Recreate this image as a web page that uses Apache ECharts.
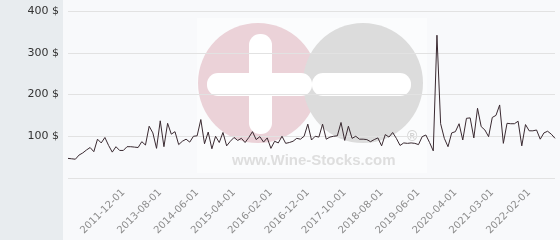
<!DOCTYPE html>
<html>
<head>
<meta charset="utf-8">
<script src="https://cdn.jsdelivr.net/npm/echarts@6/dist/echarts.min.js"></script>
<style>
html,body{margin:0;padding:0;background:#f8f9fb;}
#chart{width:560px;height:240px;}
</style>
</head>
<body>
<div id="chart"></div>
<script>
const categories = [
'2009-06-01','2009-08-01','2009-10-01','2009-12-01','2010-02-01','2010-04-01','2010-06-01','2010-08-01','2010-10-01','2010-12-01',
'2011-02-01','2011-04-01','2011-06-01','2011-08-01','2011-10-01','2011-12-01','2012-02-01','2012-04-01','2012-06-01','2012-08-01',
'2012-10-01','2012-12-01','2013-02-01','2013-04-01','2013-06-01','2013-08-01','2013-09-01','2013-10-01','2013-11-01','2013-12-01',
'2014-01-01','2014-02-01','2014-03-01','2014-04-01','2014-05-01','2014-06-01','2014-07-01','2014-08-01','2014-09-01','2014-10-01',
'2014-11-01','2014-12-01','2015-01-01','2015-02-01','2015-03-01','2015-04-01','2015-05-01','2015-06-01','2015-07-01','2015-08-01',
'2015-09-01','2015-10-01','2015-11-01','2015-12-01','2016-01-01','2016-02-01','2016-03-01','2016-04-01','2016-05-01','2016-06-01',
'2016-07-01','2016-08-01','2016-09-01','2016-10-01','2016-11-01','2016-12-01','2017-01-01','2017-02-01','2017-03-01','2017-04-01',
'2017-05-01','2017-06-01','2017-07-01','2017-08-01','2017-09-01','2017-10-01','2017-11-01','2017-12-01','2018-01-01','2018-02-01',
'2018-03-01','2018-04-01','2018-05-01','2018-06-01','2018-07-01','2018-08-01','2018-09-01','2018-10-01','2018-11-01','2018-12-01',
'2019-01-01','2019-02-01','2019-03-01','2019-04-01','2019-05-01','2019-06-01','2019-07-01','2019-08-01','2019-09-01','2019-10-01',
'2019-11-01','2019-12-01','2020-01-01','2020-02-01','2020-03-01','2020-04-01','2020-05-01','2020-06-01','2020-07-01','2020-09-01',
'2020-10-01','2020-11-01','2020-12-01','2021-01-01','2021-02-01','2021-03-01','2021-04-01','2021-05-01','2021-06-01','2021-07-01',
'2021-08-01','2021-09-01','2021-10-01','2021-11-01','2022-01-01','2022-02-01','2022-03-01','2022-04-01','2022-05-01','2022-06-01',
'2022-07-01','2022-08-01','2022-09-01'
];
const prices = [
47,46,45,55,60,67,73,63,93,84,
97,78,62,75,66,66,75,75,74,73,
87,79,124,108,71,137,75,131,105,111,
80,88,93,86,100,101,140,82,110,70,
100,85,109,77,88,97,90,95,85,97,
111,92,99,86,96,71,88,84,100,83,
85,88,95,93,100,129,91,100,98,129,
93,98,100,101,133,90,124,95,100,93,
93,92,87,92,96,77,104,98,109,95,
78,84,83,84,83,80,99,103,85,65,
342,130,95,75,108,111,130,91,143,144,
96,167,123,115,99,145,150,175,83,131,
130,130,136,77,128,113,113,115,93,108,
112,105,95
];
const xTickLabels = ['2011-12-01','2013-08-01','2014-06-01','2015-04-01','2016-02-01','2016-12-01',
  '2017-10-01','2018-08-01','2019-06-01','2020-04-01','2021-03-01','2022-02-01'];
const yMin = 0, yMax = 400, yStep = 100;

const chart = echarts.init(document.getElementById('chart'), null, {renderer:'canvas'});
chart.setOption({
  backgroundColor: '#f8f9fb',
  animation: false,
  grid: {left: 68, right: 5, top: 11, bottom: 62},
  graphic: [
    {type:'rect', z:-20, shape:{x:0,y:0,width:63,height:240}, style:{fill:'#e8ecef'}, silent:true},
    {type:'rect', z:-19, shape:{x:197,y:18,width:230,height:155}, style:{fill:'#ffffff', opacity:0.45}, silent:true},
    {type:'circle', z:-18, shape:{cx:258,cy:83,r:60}, style:{fill:'#ebd2d8'}, silent:true},
    {type:'circle', z:-17, shape:{cx:363,cy:83,r:60}, style:{fill:'#dcdcdc'}, silent:true},
    {type:'rect', z:-16, shape:{x:249,y:34,width:23,height:100,r:11}, style:{fill:'#ffffff'}, silent:true},
    {type:'rect', z:-16, shape:{x:207,y:73,width:105,height:23,r:11}, style:{fill:'#ffffff'}, silent:true},
    {type:'rect', z:-16, shape:{x:312,y:73,width:99,height:23,r:11}, style:{fill:'#ffffff'}, silent:true},
    {type:'text', z:-15, x:232, y:153, style:{text:'www.Wine-Stocks.com', fill:'#dedede', font:'bold 15px "Liberation Sans"'}, silent:true},
    {type:'text', z:-15, x:407, y:130, style:{text:'®', fill:'#d4d4d4', font:'bold 14px "Liberation Sans"'}, silent:true}
  ],
  xAxis: {
    type: 'category',
    data: categories,
    boundaryGap: false,
    axisLine: {show: false},
    axisTick: {show: false},
    splitLine: {show: false},
    axisLabel: {
      interval: (idx, val) => xTickLabels.includes(val),
      rotate: 45,
      margin: 13,
      color: '#8c8c8c',
      fontSize: 10,
      fontFamily: 'DejaVu Sans'
    }
  },
  yAxis: {
    type: 'value',
    min: yMin, max: yMax, interval: yStep,
    axisLine: {show: false},
    axisTick: {show: false},
    splitLine: {lineStyle: {color: '#e2e2e2', width: 1}},
    axisLabel: {
      formatter: v => v === 0 ? '' : v + ' $',
      color: '#333333',
      fontSize: 11,
      fontFamily: 'DejaVu Sans',
      margin: 9
    }
  },
  series: [{
    type: 'line',
    data: prices,
    showSymbol: false,
    symbol: 'none',
    lineStyle: {color: '#3a2a31', width: 1},
    z: 5
  }]
});
</script>
</body>
</html>
